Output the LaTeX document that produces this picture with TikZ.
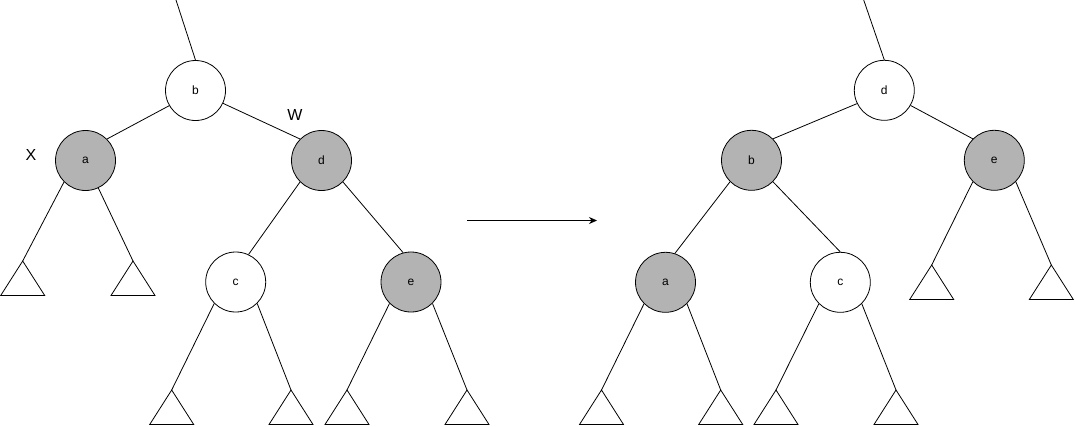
\documentclass[tikz,border=0pt]{standalone}
\usepackage{fontspec}
\setmainfont{Liberation Sans}
\usetikzlibrary{arrows.meta}
\definecolor{nodegray}{HTML}{B3B3B3}
\tikzset{
  every picture/.style={x=1pt,y=-1pt},
  treenode/.style={circle,draw,line width=0.8pt,minimum size=60pt,inner sep=0pt,font=\fontsize{12}{14}\selectfont},
  blacknode/.style={treenode,fill=nodegray},
  rednode/.style={treenode,fill=white},
  edge/.style={line width=0.8pt},
  subtree/.style={line width=0.8pt},
  tag/.style={font=\fontsize{16}{18}\selectfont,inner sep=0pt}
}
\newcommand{\subtri}[2]{%
  \coordinate (#1) at #2;
  \draw[subtree] (#1) -- ++(-22,34.5) -- ++(44,0) -- cycle;}
\begin{document}
\begin{tikzpicture}
\useasboundingbox (0,0) rectangle (1075,426);
% ---------- left tree ----------
\node[rednode] (lb) at (195.5,90.5) {b};
\node[blacknode] (la) at (85.5,160.5) {a};
\node[blacknode] (ld) at (321.5,160.5) {d};
\node[rednode] (lc) at (235.7,282) {c};
\node[blacknode] (le) at (411,282) {e};
\coordinate (ltop) at (176,0);
\subtri{lt1}{(22.7,261)}
\subtri{lt2}{(133,261)}
\subtri{lt3}{(171.7,390)}
\subtri{lt4}{(291,390)}
\subtri{lt5}{(347,390)}
\subtri{lt6}{(467,390)}
\draw[edge] (ltop) -- (lb.north);
\draw[edge] (lb.210) -- (la.45);
\draw[edge] (lb.335) -- (ld.135);
\draw[edge] (la.225) -- (lt1);
\draw[edge] (la.295) -- (lt2);
\draw[edge] (ld.225) -- (lc.65);
\draw[edge] (ld.315) -- (le.105);
\draw[edge] (lc.225) -- (lt3);
\draw[edge] (lc.315) -- (lt4);
\draw[edge] (le.225) -- (lt5);
\draw[edge] (le.315) -- (lt6);
\node[tag] (labx) at (31,155) {X};
\node[tag] (labw) at (295,115) {W};
% ---------- arrow ----------
\coordinate (arrs) at (467,220.5);
\coordinate (arre) at (597,220.5);
\draw[edge,-{Stealth[length=8pt,width=7pt]}] (arrs) -- (arre);
% ---------- right tree ----------
\node[rednode] (rd) at (884.3,90.3) {d};
\node[blacknode] (rb) at (751.5,160.3) {b};
\node[blacknode] (re) at (994.3,160.3) {e};
\node[blacknode] (ra) at (665.5,282.3) {a};
\node[rednode] (rc) at (840.3,282.3) {c};
\coordinate (rtop) at (863.7,0);
\subtri{rt1}{(931.7,265)}
\subtri{rt2}{(1051.3,265)}
\subtri{rt3}{(601.5,390)}
\subtri{rt4}{(720.7,390)}
\subtri{rt5}{(776,390)}
\subtri{rt6}{(896,390)}
\draw[edge] (rtop) -- (rd.north);
\draw[edge] (rd.206) -- (rb.45);
\draw[edge] (rd.330) -- (re.135);
\draw[edge] (rb.225) -- (ra.72);
\draw[edge] (rb.315) -- (rc.north);
\draw[edge] (re.225) -- (rt1);
\draw[edge] (re.315) -- (rt2);
\draw[edge] (ra.225) -- (rt3);
\draw[edge] (ra.315) -- (rt4);
\draw[edge] (rc.225) -- (rt5);
\draw[edge] (rc.315) -- (rt6);
\end{tikzpicture}
\end{document}
